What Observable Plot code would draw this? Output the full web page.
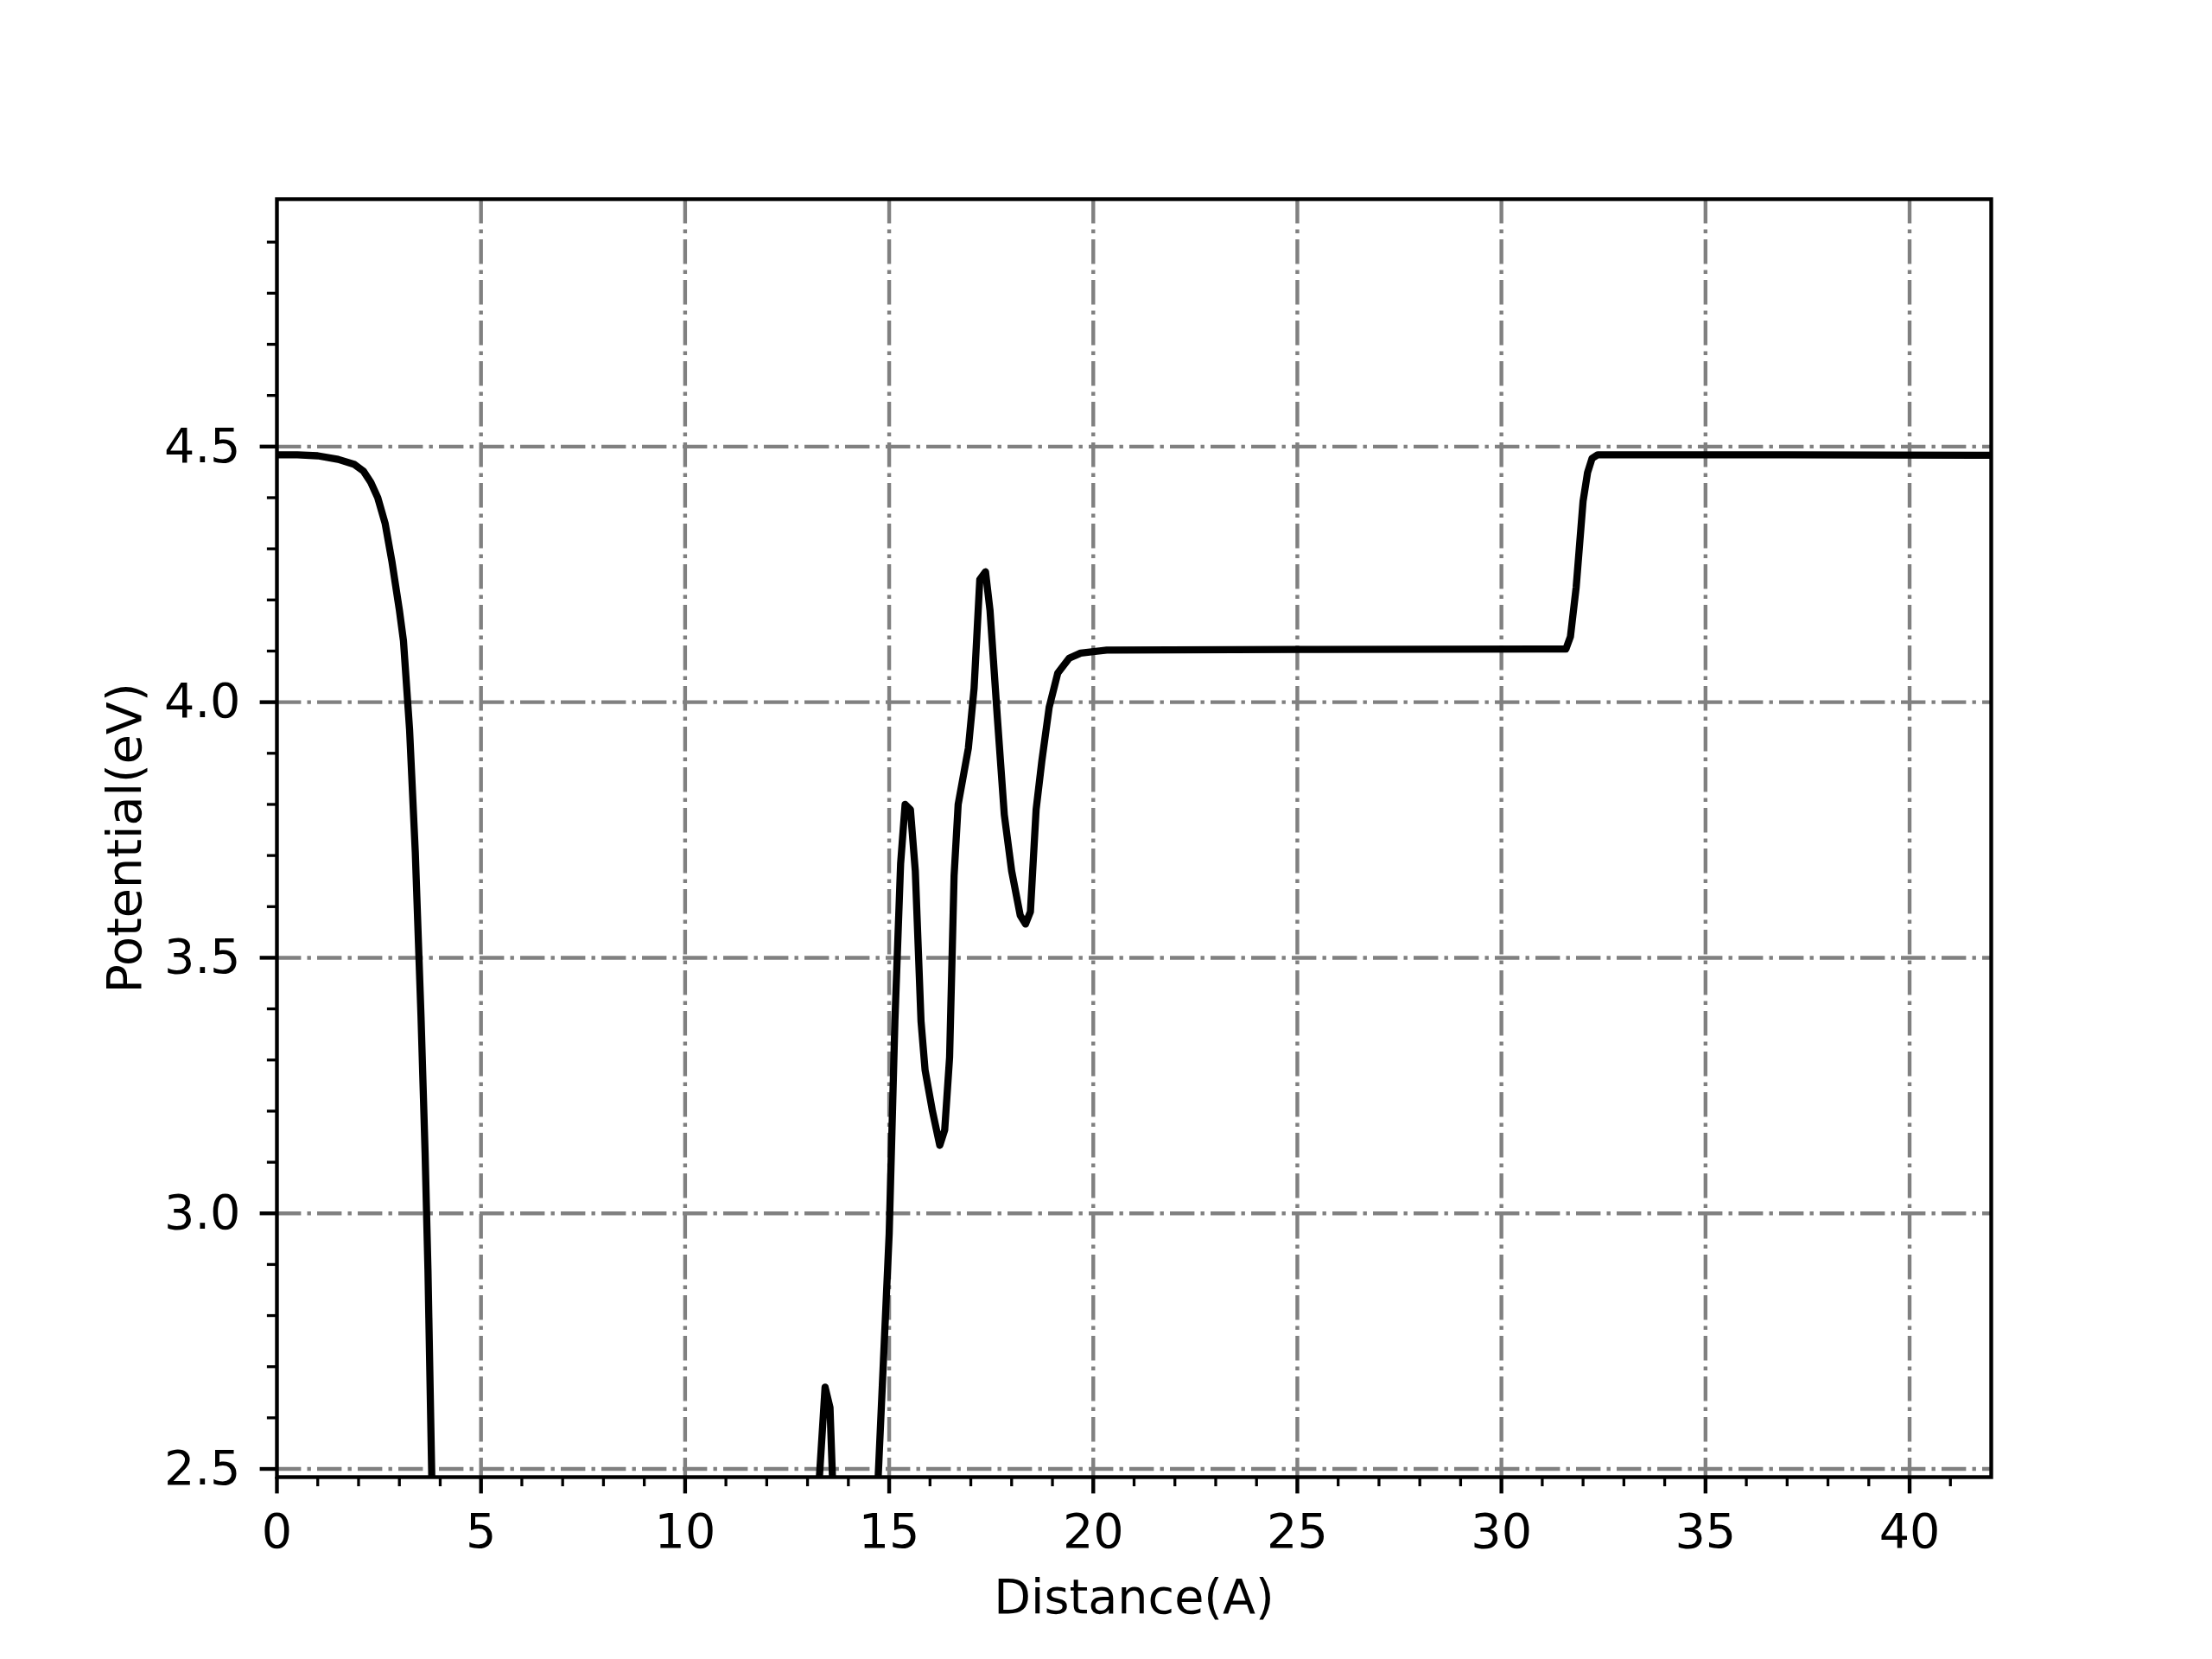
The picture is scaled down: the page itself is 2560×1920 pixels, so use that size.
<!DOCTYPE html>
<html>
<head>
<meta charset="utf-8">
<script src="https://cdn.jsdelivr.net/npm/d3@7"></script>
<script src="https://cdn.jsdelivr.net/npm/@observablehq/plot@0.6"></script>
<style>
  html, body { margin: 0; padding: 0; background: #fff; }
</style>
</head>
<body>
<div id="chart"></div>
<script>
// Distance (Å) and electrostatic potential (eV)
const distance = [
  0, 0.5, 1.0, 1.5, 1.9, 2.12, 2.3, 2.47, 2.65, 2.82, 3.0, 3.1, 3.25, 3.39, 3.53, 3.63, 3.70, 3.79, 3.86,
  4.2, 6, 9, 12, 13.2,
  13.43, 13.55, 13.7,
  14.1, 14.6,
  14.86, 15.0, 15.14, 15.28, 15.39, 15.52, 15.64, 15.78, 15.88, 16.06, 16.24, 16.36, 16.48, 16.59, 16.69,
  16.94, 17.08, 17.22, 17.36, 17.47, 17.65, 17.82, 18.0, 18.21, 18.34, 18.46, 18.6, 18.74, 18.92,
  19.13, 19.41, 19.69, 20.33, 25, 31.58,
  31.69, 31.83, 32.0, 32.11, 32.22, 32.36, 37, 42
];
const potential = [
  4.484, 4.484, 4.482, 4.475, 4.465, 4.452, 4.43, 4.40, 4.35, 4.274, 4.18, 4.12, 3.946, 3.706, 3.385, 3.118, 2.89, 2.5, 2.2,
  1.5, 1.2, 1.2, 1.6, 2.37,
  2.66, 2.62, 2.28,
  1.9, 2.255,
  2.713, 2.96, 3.376, 3.684, 3.80, 3.79, 3.67, 3.376, 3.28, 3.20, 3.133, 3.163, 3.305, 3.66, 3.80,
  3.91, 4.027, 4.24, 4.255, 4.18, 3.97, 3.78, 3.67, 3.583, 3.566, 3.59, 3.79, 3.885, 3.99,
  4.057, 4.086, 4.096, 4.102, 4.103, 4.104,
  4.128, 4.224, 4.393, 4.449, 4.477, 4.484, 4.484, 4.483
];
const xMajorTicks = [0, 5, 10, 15, 20, 25, 30, 35, 40];
const xMinorTicks = [1, 2, 3, 4, 6, 7, 8, 9, 11, 12, 13, 14, 16, 17, 18, 19, 21, 22, 23, 24, 26, 27, 28, 29, 31, 32, 33, 34, 36, 37, 38, 39, 41];
const yMajorTicks = [2.5, 3.0, 3.5, 4.0, 4.5];
const yMinorTicks = [2.6, 2.7, 2.8, 2.9, 3.1, 3.2, 3.3, 3.4, 3.6, 3.7, 3.8, 3.9, 4.1, 4.2, 4.3, 4.4, 4.6, 4.7, 4.8, 4.9];
const xLabel = "Distance(A)";
const yLabel = "Potential(eV)";

const data = distance.map((d, i) => ({x: d, y: potential[i]}));

const FS = 55.6;
const gridStyle = {stroke: "#808080", strokeWidth: 4.4, strokeDasharray: "28.4,7.1,4.4,7.1"};

const chart = Plot.plot({
  width: 2560,
  height: 1920,
  marginLeft: 320,
  marginRight: 256,
  marginTop: 230,
  marginBottom: 211,
  style: {fontFamily: "DejaVu Sans", fontSize: FS + "px", background: "#fff", color: "#000"},
  x: {domain: [0, 42]},
  y: {domain: [2.484, 4.984]},
  marks: [
    Plot.ruleX(xMajorTicks.filter(d => d > 0), gridStyle),
    Plot.ruleY(yMajorTicks, gridStyle),
    Plot.line(data, {x: "x", y: "y", stroke: "#000", strokeWidth: 8.3, clip: true, strokeLinejoin: "round", strokeLinecap: "butt"}),
    Plot.frame({stroke: "#000", strokeWidth: 4.4}),
    Plot.axisX({ticks: xMajorTicks, tickSize: 19.4, tickPadding: 22.6, strokeWidth: 4.4, fontSize: FS, label: null, tickFormat: d => String(d)}),
    Plot.axisX({ticks: xMinorTicks, tickSize: 11.1, strokeWidth: 3.3, label: null, tickFormat: () => ""}),
    Plot.axisY({ticks: yMajorTicks, tickSize: 19.4, tickPadding: 22.6, strokeWidth: 4.4, fontSize: FS, label: null, tickFormat: d => d.toFixed(1)}),
    Plot.axisY({ticks: yMinorTicks, tickSize: 11.1, strokeWidth: 3.3, label: null, tickFormat: () => ""}),
    Plot.text([xLabel], {frameAnchor: "bottom", dy: 140, lineAnchor: "middle", textAnchor: "middle", fontSize: FS, fill: "#000"}),
    Plot.text([yLabel], {frameAnchor: "left", dx: -175, rotate: -90, lineAnchor: "middle", textAnchor: "middle", fontSize: FS, fill: "#000"})
  ]
});
document.getElementById("chart").appendChild(chart);
</script>
</body>
</html>
